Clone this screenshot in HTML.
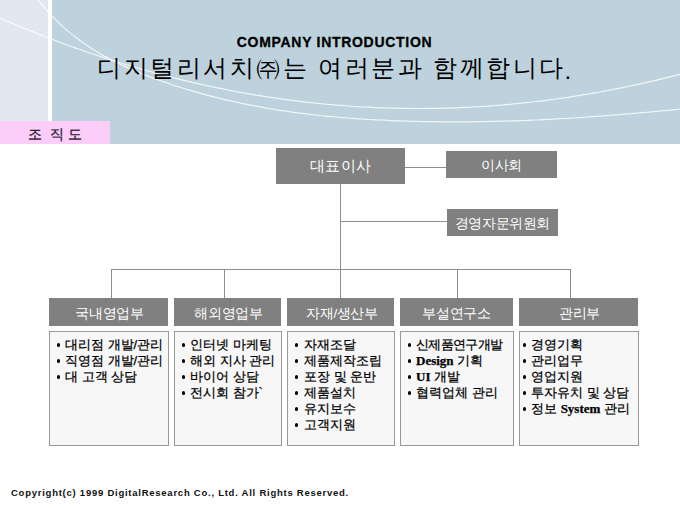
<!DOCTYPE html>
<html><head><meta charset="utf-8">
<style>
*{margin:0;padding:0;box-sizing:border-box}
html,body{width:680px;height:510px;overflow:hidden;background:#fff}
body{position:relative;font-family:"Liberation Sans",sans-serif;color:#000}
.abs{position:absolute}
#hdr{left:0;top:0;width:680px;height:144px;background:#bdd2dc}
#strip{left:0;top:0;width:48px;height:144px;background:#e2e7f0}
#vline{left:48px;top:0;width:4px;height:144px;background:#fff}
#curves{left:0;top:0}
#t1{left:236.8px;top:34px;font-weight:bold;font-size:14px;letter-spacing:0.7px;white-space:nowrap;color:#000;-webkit-text-stroke:0.3px #000}
#t2{left:97px;top:52px;font-size:24px;white-space:nowrap;color:#000;letter-spacing:2.5px}
#tab{left:0;top:121px;width:110px;height:23px;background:#fccdf8}
#tab span{position:absolute;top:4.6px;font-size:14px;color:#2a2030;-webkit-text-stroke:0.3px #2a2030;white-space:nowrap}
.g{position:absolute;background:#808080;color:#fff;font-size:13.5px;text-align:center;white-space:nowrap;letter-spacing:-0.4px}
.ln{position:absolute;background:#8e8e8e}
.g span{position:relative;top:2px}
.c{position:absolute;top:331px;height:115px;background:#f7f7f7;border:1px solid #999;font-size:13px;line-height:16px;padding-top:5px;color:#000;-webkit-text-stroke:0.25px #000}
.c div{white-space:nowrap;position:relative;height:16px}
.c i{position:absolute;top:6.3px;width:3.4px;height:3.4px;border-radius:50%;background:#000}
.b{font-family:"Liberation Serif",serif;font-weight:bold}
#foot{left:11px;top:486.6px;font-size:9.5px;letter-spacing:0.75px;font-weight:bold;white-space:nowrap;color:#111}
</style></head><body>
<div id="hdr" class="abs"></div>
<div id="strip" class="abs"></div>
<div id="vline" class="abs"></div>
<svg id="curves" class="abs" width="680" height="144" viewBox="0 0 680 144">
<polyline points="36.0,-3.1 40.0,2.1 44.0,7.0 48.0,11.6 52.0,16.0 56.0,20.1 60.0,24.0 64.0,27.6 68.0,31.1 72.0,34.4 76.0,37.5 80.0,40.5 84.0,43.3 88.0,46.0 92.0,48.7 96.0,51.2 100.0,53.6 104.0,55.9 108.0,58.1 112.0,60.2 116.0,62.3 120.0,64.2 124.0,66.1 128.0,67.9 132.0,69.7 136.0,71.4 140.0,73.0 144.0,74.6 148.0,76.1 152.0,77.6 156.0,79.1 160.0,80.5 164.0,81.9 168.0,83.3 172.0,84.7 176.0,86.0 180.0,87.2 184.0,88.5 188.0,89.7 192.0,90.9 196.0,92.1 200.0,93.2 204.0,94.3 208.0,95.4 212.0,96.4 216.0,97.4 220.0,98.4 224.0,99.4 228.0,100.3 232.0,101.2 236.0,102.1 240.0,103.0 244.0,103.8 248.0,104.6 252.0,105.4 256.0,106.2 260.0,106.9 264.0,107.7 268.0,108.3 272.0,109.0 276.0,109.7 280.0,110.3 284.0,110.9 288.0,111.5 292.0,112.1 296.0,112.6 300.0,113.1 304.0,113.6 308.0,114.1 312.0,114.6 316.0,115.0 320.0,115.5 324.0,115.9 328.0,116.3 332.0,116.7 336.0,117.0 340.0,117.4 344.0,117.7 348.0,118.0 352.0,118.3 356.0,118.6 360.0,118.9 364.0,119.1 368.0,119.4 372.0,119.6 376.0,119.8 380.0,120.0 384.0,120.2 388.0,120.4 392.0,120.6 396.0,120.8 400.0,120.9 404.0,121.0 408.0,121.2 412.0,121.3 416.0,121.4 420.0,121.5 424.0,121.6 428.0,121.6 432.0,121.7 436.0,121.7 440.0,121.8 444.0,121.8 448.0,121.8 452.0,121.9 456.0,121.9 460.0,121.8 464.0,121.8 468.0,121.8 472.0,121.8 476.0,121.7 480.0,121.7 484.0,121.6 488.0,121.5 492.0,121.4 496.0,121.3 500.0,121.2 504.0,121.1 508.0,121.0 512.0,120.9 516.0,120.8 520.0,120.6 524.0,120.5 528.0,120.3 532.0,120.1 536.0,120.0 540.0,119.8 544.0,119.6 548.0,119.4 552.0,119.2 556.0,119.0 560.0,118.7 564.0,118.5 568.0,118.3 572.0,118.0 576.0,117.8 580.0,117.5 584.0,117.3 588.0,117.0 592.0,116.7 596.0,116.4 600.0,116.1 604.0,115.8 608.0,115.5 612.0,115.2 616.0,114.9 620.0,114.6 624.0,114.2 628.0,113.9 632.0,113.6 636.0,113.2 640.0,112.9 644.0,112.5 648.0,112.2 652.0,111.8 656.0,111.4 660.0,111.0 664.0,110.6 668.0,110.3 672.0,109.9 676.0,109.5 680.0,109.1" fill="none" stroke="#fff" stroke-width="1.2" opacity="0.8"/>
<polyline points="0.0,18.0 4.0,19.7 8.0,21.5 12.0,23.2 16.0,24.9 20.0,26.5 24.0,28.2 28.0,29.8 32.0,31.4 36.0,33.0 40.0,34.6 44.0,36.2 48.0,37.7 52.0,39.3 56.0,40.8 60.0,42.3 64.0,43.8 68.0,45.3 72.0,46.7 76.0,48.1 80.0,49.5 84.0,50.9 88.0,52.3 92.0,53.7 96.0,55.0 100.0,56.4 104.0,57.7 108.0,59.0 112.0,60.3 116.0,61.5 120.0,62.8 124.0,64.0 128.0,65.2 132.0,66.4 136.0,67.6 140.0,68.7 144.0,69.9 148.0,71.0 152.0,72.1 156.0,73.2 160.0,74.3 164.0,75.3 168.0,76.4 172.0,77.4 176.0,78.4 180.0,79.4 184.0,80.4 188.0,81.3 192.0,82.3 196.0,83.2 200.0,84.1 204.0,85.0 208.0,85.9 212.0,86.7 216.0,87.6 220.0,88.4 224.0,89.2 228.0,90.0 232.0,90.8 236.0,91.5 240.0,92.3 244.0,93.0 248.0,93.7 252.0,94.4 256.0,95.1 260.0,95.7 264.0,96.4 268.0,97.0 272.0,97.6 276.0,98.2 280.0,98.7 284.0,99.3 288.0,99.8 292.0,100.4 296.0,100.9 300.0,101.4 304.0,101.8 308.0,102.3 312.0,102.7 316.0,103.2 320.0,103.6 324.0,104.0 328.0,104.4 332.0,104.7 336.0,105.1 340.0,105.4 344.0,105.7 348.0,106.0 352.0,106.3 356.0,106.5 360.0,106.8 364.0,107.0 368.0,107.2 372.0,107.4 376.0,107.6 380.0,107.8 384.0,107.9 388.0,108.0 392.0,108.1 396.0,108.2 400.0,108.3 404.0,108.4 408.0,108.4 412.0,108.5 416.0,108.5 420.0,108.5 424.0,108.5 428.0,108.4 432.0,108.4 436.0,108.3 440.0,108.3 444.0,108.2 448.0,108.1 452.0,107.9 456.0,107.8 460.0,107.6 464.0,107.4 468.0,107.3 472.0,107.0 476.0,106.8 480.0,106.6 484.0,106.3 488.0,106.1 492.0,105.8 496.0,105.5 500.0,105.1 504.0,104.8 508.0,104.4 512.0,104.1 516.0,103.7 520.0,103.3 524.0,102.9 528.0,102.4 532.0,102.0 536.0,101.5 540.0,101.1 544.0,100.6 548.0,100.1 552.0,99.5 556.0,99.0 560.0,98.4 564.0,97.8 568.0,97.3 572.0,96.7 576.0,96.0 580.0,95.4 584.0,94.7 588.0,94.1 592.0,93.4 596.0,92.7 600.0,92.0 604.0,91.2 608.0,90.5 612.0,89.7 616.0,88.9 620.0,88.1 624.0,87.3 628.0,86.5 632.0,85.7 636.0,84.8 640.0,83.9 644.0,83.1 648.0,82.1 652.0,81.2 656.0,80.3 660.0,79.3 664.0,78.4 668.0,77.4 672.0,76.4 676.0,75.4 680.0,74.4" fill="none" stroke="#fff" stroke-width="1.2" opacity="0.8"/>
</svg>
<div id="t1" class="abs">COMPANY INTRODUCTION</div>
<div id="t2" class="abs">디지털리서치㈜는 여러분과 함께합니다<span style="position:relative;top:2.5px;left:-1.3px">.</span></div>
<div id="tab" class="abs"><span style="left:28px">조</span><span style="left:49.5px">직</span><span style="left:67.5px">도</span></div>

<!-- top boxes -->
<div class="g" style="left:276px;top:148px;width:129px;height:36px;line-height:35px;font-size:14.5px;letter-spacing:0.5px"><span style="top:1px">대표이사</span></div>
<div class="g" style="left:446px;top:151px;width:111px;height:27px;line-height:27px"><span style="top:1px">이사회</span></div>
<div class="g" style="left:447px;top:209px;width:111px;height:27px;line-height:27px"><span style="top:1px">경영자문위원회</span></div>
<div class="ln" style="left:405px;top:167px;width:41px;height:1px"></div>
<div class="ln" style="left:340px;top:183px;width:1px;height:115px"></div>
<div class="ln" style="left:341px;top:221px;width:106px;height:1px"></div>
<div class="ln" style="left:111px;top:269px;width:460px;height:1px"></div>
<div class="ln" style="left:111px;top:269px;width:1px;height:29px"></div>
<div class="ln" style="left:224px;top:269px;width:1px;height:29px"></div>
<div class="ln" style="left:457px;top:269px;width:1px;height:29px"></div>
<div class="ln" style="left:570px;top:269px;width:1px;height:29px"></div>

<div class="g" style="left:49px;top:298px;width:119px;height:28px;line-height:28px"><span style="left:1px">국내영업부</span></div>
<div class="g" style="left:174px;top:298px;width:107px;height:28px;line-height:28px"><span style="left:1px">해외영업부</span></div>
<div class="g" style="left:287px;top:298px;width:107px;height:28px;line-height:28px"><span style="left:1.5px">자재/생산부</span></div>
<div class="g" style="left:400px;top:298px;width:113px;height:28px;line-height:28px"><span>부설연구소</span></div>
<div class="g" style="left:519px;top:298px;width:119px;height:28px;line-height:28px"><span style="left:1px">관리부</span></div>

<div class="c" style="left:49px;width:120px"><div style="padding-left:15px"><i style="left:7px"></i>대리점 개발/관리</div><div style="padding-left:15px"><i style="left:7px"></i>직영점 개발/관리</div><div style="padding-left:15px"><i style="left:7px"></i>대 고객 상담</div></div>
<div class="c" style="left:174px;width:108px"><div style="padding-left:15px"><i style="left:7px"></i>인터넷 마케팅</div><div style="padding-left:15px"><i style="left:7px"></i>해외 지사 관리</div><div style="padding-left:15px"><i style="left:7px"></i>바이어 상담</div><div style="padding-left:15px"><i style="left:7px"></i>전시회 참가`</div></div>
<div class="c" style="left:287px;width:108px"><div style="padding-left:16px"><i style="left:7px"></i>자재조달</div><div style="padding-left:16px"><i style="left:7px"></i>제품제작조립</div><div style="padding-left:16px"><i style="left:7px"></i>포장 및 운반</div><div style="padding-left:16px"><i style="left:7px"></i>제품설치</div><div style="padding-left:16px"><i style="left:7px"></i>유지보수</div><div style="padding-left:16px"><i style="left:7px"></i>고객지원</div></div>
<div class="c" style="left:400px;width:114px"><div style="padding-left:15px"><i style="left:7px"></i><span style="letter-spacing:-0.7px">신제품연구개발</span></div><div style="padding-left:15px"><i style="left:7px"></i><span class="b">Design</span> 기획</div><div style="padding-left:15px"><i style="left:7px"></i><span class="b">UI</span> 개발</div><div style="padding-left:15px"><i style="left:7px"></i>협력업체 관리</div></div>
<div class="c" style="left:519px;width:120px"><div style="padding-left:11px"><i style="left:3px"></i>경영기획</div><div style="padding-left:11px"><i style="left:3px"></i>관리업무</div><div style="padding-left:11px"><i style="left:3px"></i>영업지원</div><div style="padding-left:11px"><i style="left:3px"></i>투자유치 및 상담</div><div style="padding-left:11px"><i style="left:3px"></i>정보 <span class="b">System</span> 관리</div></div>
<div id="foot" class="abs">Copyright(c) 1999 DigitalResearch Co., Ltd. All Rights Reserved.</div>
</body></html>
